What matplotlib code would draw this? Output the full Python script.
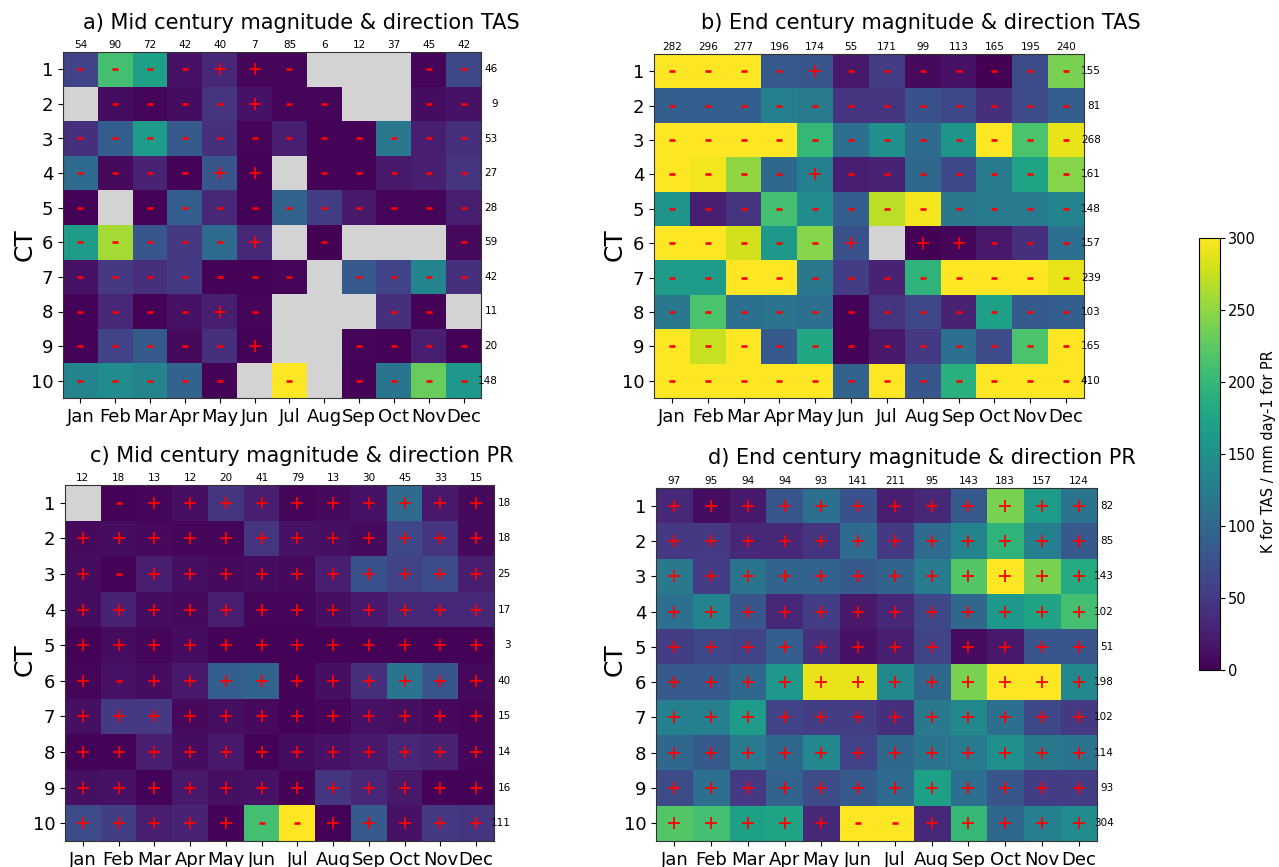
import numpy as np
import matplotlib
matplotlib.use("Agg")
import matplotlib.pyplot as plt

nan = np.nan
months = ["Jan", "Feb", "Mar", "Apr", "May", "Jun", "Jul", "Aug", "Sep", "Oct", "Nov", "Dec"]
cts = [str(i) for i in range(1, 11)]

titles = ["a) Mid century magnitude & direction TAS",
          "b) End century magnitude & direction TAS",
          "c) Mid century magnitude & direction PR",
          "d) End century magnitude & direction PR"]

tas_mid = [
    [60, 210, 170, 15, 35, 5, 5, nan, nan, nan, 5, 65],
    [nan, 10, 5, 10, 45, 15, 5, 5, nan, nan, 10, 15],
    [40, 90, 165, 85, 40, 5, 25, 3, 3, 120, 25, 40],
    [105, 8, 30, 3, 80, 3, nan, 3, 3, 20, 25, 45],
    [3, nan, 3, 90, 35, 3, 95, 55, 20, 5, 5, 25],
    [165, 260, 80, 50, 105, 35, nan, 2, nan, nan, nan, 8],
    [15, 50, 40, 50, 3, 3, 5, nan, 85, 60, 135, 40],
    [3, 35, 3, 15, 25, 5, nan, nan, nan, 40, 3, nan],
    [3, 60, 85, 8, 40, 3, nan, nan, 5, 3, 25, 3],
    [135, 145, 135, 95, 3, nan, 300, nan, 3, 115, 230, 160],
]
tas_mid_sign = ["----++-...--", ".----+--..--", "------------", "----++.-----",
                "-.----------", "-----+.-...-", "-------.----", "----+-...--.",
                "-----+..----", "-----.-.----"]
tas_mid_col = [54, 90, 72, 42, 40, 7, 85, 6, 12, 37, 45, 42]
tas_mid_row = [46, 9, 53, 27, 28, 59, 42, 11, 20, 148]

tas_end = [
    [310, 310, 310, 85, 80, 20, 55, 8, 15, 2, 70, 240],
    [90, 90, 90, 130, 125, 45, 45, 75, 65, 40, 70, 90],
    [310, 310, 310, 310, 200, 110, 150, 105, 155, 300, 215, 290],
    [300, 295, 250, 100, 130, 25, 30, 100, 65, 125, 175, 245],
    [155, 25, 45, 210, 145, 90, 270, 295, 120, 125, 125, 135],
    [300, 300, 280, 160, 245, 75, nan, 2, 5, 20, 40, 110],
    [165, 165, 305, 305, 120, 55, 30, 195, 305, 305, 305, 290],
    [120, 215, 110, 115, 110, 3, 45, 65, 30, 170, 85, 90],
    [305, 275, 305, 85, 180, 3, 20, 50, 110, 70, 215, 305],
    [305, 305, 305, 305, 305, 95, 305, 80, 190, 305, 305, 305],
]
tas_end_sign = ["----+-------", "------------", "------------", "----+-------",
                "------------", "-----+.++---", "------------", "------------",
                "------------", "------------"]
tas_end_col = [282, 296, 277, 196, 174, 55, 171, 99, 113, 165, 195, 240]
tas_end_row = [155, 81, 268, 161, 148, 157, 239, 103, 165, 410]

pr_mid = [
    [nan, 3, 5, 12, 45, 25, 5, 8, 15, 105, 20, 8],
    [8, 10, 8, 5, 5, 45, 15, 12, 8, 65, 45, 8],
    [10, 3, 25, 12, 8, 10, 8, 25, 75, 60, 70, 25],
    [10, 30, 10, 8, 25, 5, 5, 12, 20, 35, 35, 35],
    [3, 10, 5, 10, 3, 3, 3, 3, 3, 3, 3, 3],
    [5, 15, 10, 20, 90, 95, 3, 12, 40, 115, 80, 8],
    [12, 50, 50, 8, 12, 8, 3, 5, 15, 12, 8, 5],
    [3, 3, 25, 10, 20, 3, 10, 15, 20, 35, 30, 5],
    [12, 15, 3, 20, 12, 15, 3, 45, 35, 20, 3, 3],
    [70, 55, 25, 30, 3, 210, 305, 3, 85, 15, 50, 45],
]
pr_mid_sign = [".-++++++++++", "++++++++++++", "+-++++++++++", "++++++++++++",
               "++++++++++++", "+-++++++++++", "++++++++++++", "++++++++++++",
               "++++++++++++", "+++++--+++++"]
pr_mid_col = [12, 18, 13, 12, 20, 41, 79, 13, 30, 45, 33, 15]
pr_mid_row = [18, 18, 25, 17, 3, 40, 15, 14, 16, 111]

pr_end = [
    [35, 10, 20, 80, 110, 75, 25, 35, 85, 240, 165, 115],
    [50, 50, 35, 35, 45, 105, 50, 105, 135, 195, 130, 85],
    [120, 55, 115, 95, 95, 85, 95, 125, 220, 300, 240, 185],
    [110, 135, 80, 35, 55, 20, 35, 65, 100, 160, 175, 210],
    [55, 65, 60, 90, 40, 15, 25, 60, 10, 20, 80, 80],
    [85, 85, 100, 160, 290, 290, 140, 100, 240, 305, 305, 140],
    [130, 130, 165, 60, 55, 55, 40, 120, 140, 110, 65, 50],
    [100, 85, 125, 100, 140, 60, 100, 115, 125, 150, 120, 115],
    [70, 110, 50, 95, 70, 85, 105, 170, 110, 80, 55, 55],
    [220, 210, 170, 175, 35, 305, 305, 35, 200, 100, 130, 145],
]
pr_end_sign = ["++++++++++++"] * 9 + ["+++++--+++++"]
pr_end_col = [97, 95, 94, 94, 93, 141, 211, 95, 143, 183, 157, 124]
pr_end_row = [82, 85, 143, 102, 51, 198, 102, 114, 93, 304]

W, H = 1279, 867
fig = plt.figure(figsize=(W / 100, H / 100), dpi=100)

def fx(px):
    return px / W

def fy(py):
    return 1 - py / H

# axes boxes in pixels: left, top, right, bottom
boxes = [(63, 52, 481, 398), (654, 54, 1084, 398),
         (65, 485, 494, 841), (656, 488, 1097, 841)]
title_pos = [(301, 23), (921, 23), (302, 456), (922, 458)]
ct_pos = [(25, 245), (615, 245), (25, 660), (615, 660)]

panels = [(tas_mid, tas_mid_sign, tas_mid_col, tas_mid_row),
          (tas_end, tas_end_sign, tas_end_col, tas_end_row),
          (pr_mid, pr_mid_sign, pr_mid_col, pr_mid_row),
          (pr_end, pr_end_sign, pr_end_col, pr_end_row)]

cmap = plt.get_cmap("viridis").copy()
cmap.set_bad("lightgrey")

im = None
for k, (data, signs, coltot, rowtot) in enumerate(panels):
    l, t, r, b = boxes[k]
    ax = fig.add_axes([fx(l), fy(b), fx(r - l), (b - t) / H])
    arr = np.ma.masked_invalid(np.array(data, dtype=float))
    im = ax.imshow(arr, cmap=cmap, vmin=0, vmax=300, aspect="auto",
                   interpolation="nearest")
    px, py, mx, my = [], [], [], []
    for i in range(10):
        for j in range(12):
            s = signs[i][j]
            if s == "+":
                px.append(j); py.append(i)
            elif s == "-":
                mx.append(j); my.append(i)
    ax.plot(px, py, linestyle="none", marker="+", color="red",
            markersize=8, markeredgewidth=1.3)
    ax.plot(mx, my, linestyle="none", marker="_", color="red",
            markersize=4, markeredgewidth=1.9)
    for j in range(12):
        ax.annotate(str(coltot[j]), xy=(j, 1), xycoords=("data", "axes fraction"),
                    xytext=(0, 1.5), textcoords="offset points",
                    ha="center", va="bottom", fontsize=7.5)
    for i in range(10):
        ax.annotate(str(rowtot[i]), xy=(1, i), xycoords=("axes fraction", "data"),
                    xytext=(12, 0), textcoords="offset points",
                    ha="right", va="center", fontsize=7.5)
    ax.set_xlim(-0.5, 11.5)
    ax.set_ylim(9.5, -0.5)
    ax.set_xticks(range(12))
    ax.set_xticklabels(months, fontsize=13)
    ax.set_yticks(range(10))
    ax.set_yticklabels(cts, fontsize=13)
    for sp in ax.spines.values():
        sp.set_color("#333333")
    tx, ty = title_pos[k]
    fig.text(fx(tx), fy(ty), titles[k], ha="center", va="center", fontsize=15)
    cx, cy = ct_pos[k]
    fig.text(fx(cx), fy(cy), "CT", rotation=90, ha="center", va="center", fontsize=18)

cax = fig.add_axes([fx(1199), fy(670), fx(21), (670 - 238) / H])
cb = fig.colorbar(im, cax=cax, ticks=[0, 50, 100, 150, 200, 250, 300])
cb.ax.tick_params(labelsize=10.5, pad=2)
fig.text(fx(1261), fy(452), "K for TAS / mm day-1 for PR", rotation=90,
         ha="left", va="center", fontsize=10.5)

fig.savefig("out.png", dpi=100)
